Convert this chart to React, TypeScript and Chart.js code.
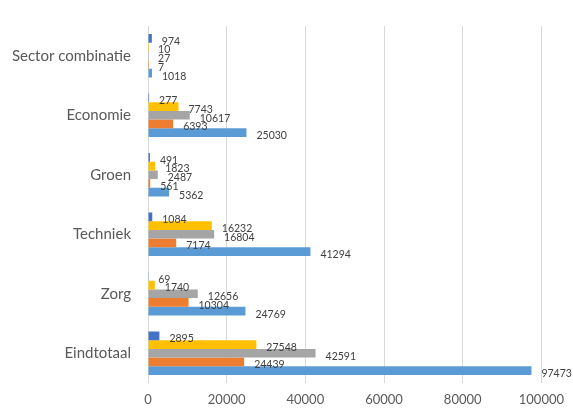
import React, { useEffect, useRef } from 'react';
import { Chart, registerables, Plugin } from 'chart.js';

Chart.register(...registerables);

const categories = ['Sector combinatie', 'Economie', 'Groen', 'Techniek', 'Zorg', 'Eindtotaal'];

// listed top-to-bottom within each group
const seriesDarkBlue = [974, 277, 491, 1084, 69, 2895];
const seriesYellow = [10, 7743, 1823, 16232, 1740, 27548];
const seriesGray = [27, 10617, 2487, 16804, 12656, 42591];
const seriesOrange = [7, 6393, 561, 7174, 10304, 24439];
const seriesLightBlue = [1018, 25030, 5362, 41294, 24769, 97473];

const xTicks = [0, 20000, 40000, 60000, 80000, 100000];

const FONT = 'Lato, "Open Sans", sans-serif';

// value labels just past the end of each bar, a bit below centre (Excel style)
const valueLabels: Plugin<'bar'> = {
  id: 'valueLabels',
  afterDatasetsDraw(chart) {
    const ctx = chart.ctx;
    ctx.save();
    ctx.font = `10.5px ${FONT}`;
    ctx.fillStyle = '#404040';
    ctx.textAlign = 'left';
    ctx.textBaseline = 'middle';
    chart.data.datasets.forEach((ds, i) => {
      const meta = chart.getDatasetMeta(i);
      meta.data.forEach((el: any, j) => {
        const v = ds.data[j] as number;
        ctx.fillText(String(v), el.x + 10, el.y + 3);
      });
    });
    ctx.restore();
  },
};

export default function App() {
  const canvasRef = useRef<HTMLCanvasElement>(null);

  useEffect(() => {
    document.body.style.margin = '0';
    if (!canvasRef.current) return;
    const chart = new Chart(canvasRef.current, {
      type: 'bar',
      data: {
        labels: categories,
        datasets: [
          { label: 'd1', data: seriesDarkBlue, backgroundColor: '#4472C4' },
          { label: 'd2', data: seriesYellow, backgroundColor: '#FFC000' },
          { label: 'd3', data: seriesGray, backgroundColor: '#A5A5A5' },
          { label: 'd4', data: seriesOrange, backgroundColor: '#ED7D31' },
          { label: 'd5', data: seriesLightBlue, backgroundColor: '#5B9BD5' },
        ],
      },
      options: {
        indexAxis: 'y',
        animation: false,
        responsive: false,
        maintainAspectRatio: false,
        datasets: { bar: { categoryPercentage: 0.73, barPercentage: 1.0 } },
        layout: { padding: { top: 6, right: 30, bottom: 0, left: 0 } },
        plugins: { legend: { display: false }, tooltip: { enabled: false } },
        scales: {
          x: {
            min: 0,
            max: 100000,
            afterBuildTicks: (s: any) => {
              s.ticks = xTicks.map(v => ({ value: v }));
            },
            afterFit: (s: any) => {
              s.height = 27;
            },
            grid: { color: '#d9d9d9', drawTicks: false },
            border: { display: false },
            ticks: {
              color: '#595959',
              font: { family: FONT, size: 13 },
              padding: 9,
              maxRotation: 0,
              callback: (v: any) => String(v),
            },
          },
          y: {
            afterFit: (s: any) => {
              s.width = 148;
            },
            grid: { display: false, drawTicks: false },
            border: { display: false },
            ticks: { color: '#595959', font: { family: FONT, size: 15 }, padding: 17 },
          },
        },
      },
      plugins: [valueLabels],
    });
    return () => chart.destroy();
  }, []);

  return (
    <div style={{ width: 573, height: 410, background: '#fff' }}>
      <canvas ref={canvasRef} width={573} height={410} style={{ width: 573, height: 410 }} />
    </div>
  );
}
